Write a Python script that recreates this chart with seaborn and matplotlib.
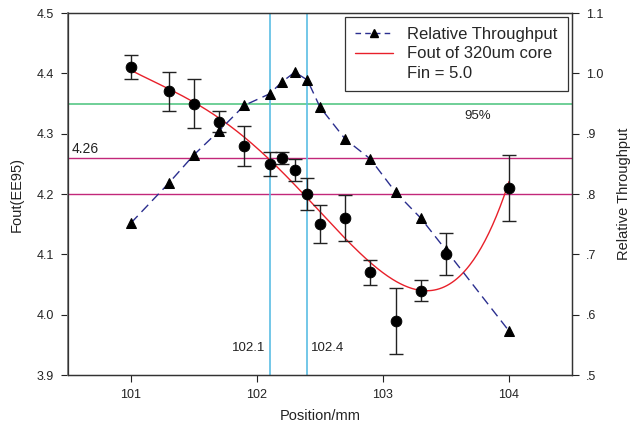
import numpy as np
import pandas as pd
import matplotlib
matplotlib.use("Agg")
import matplotlib.pyplot as plt
from matplotlib.lines import Line2D
from matplotlib.ticker import FuncFormatter
import seaborn as sns

# Fout(EE95) measurements with error bars
pos_fout = [101.0, 101.3, 101.5, 101.7, 101.9, 102.1, 102.2, 102.3, 102.4,
            102.5, 102.7, 102.9, 103.1, 103.3, 103.5, 104.0]
fout = [4.41, 4.37, 4.35, 4.32, 4.28, 4.25, 4.26, 4.24, 4.20,
        4.15, 4.16, 4.07, 3.99, 4.04, 4.10, 4.21]
fout_err = [0.02, 0.033, 0.04, 0.018, 0.033, 0.02, 0.01, 0.018, 0.027,
            0.032, 0.038, 0.02, 0.055, 0.017, 0.035, 0.055]

# Relative throughput
pos_tp = [101.0, 101.3, 101.5, 101.7, 101.9, 102.1, 102.2, 102.3, 102.4,
          102.5, 102.7, 102.9, 103.1, 103.3, 103.5, 104.0]
throughput = [0.752, 0.818, 0.865, 0.905, 0.947, 0.966, 0.986, 1.002, 0.989,
              0.944, 0.891, 0.858, 0.803, 0.760, 0.707, 0.573]

ref_fout = [4.35, 4.26, 4.20]
ref_pos = [102.1, 102.4]

sns.set_theme(style="ticks")
plt.rcParams["font.family"] = ["Liberation Sans", "DejaVu Sans"]

fout_df = pd.DataFrame({"pos": pos_fout, "fout": fout, "err": fout_err})
tp_df = pd.DataFrame({"pos": pos_tp, "tp": throughput})

fig = plt.figure(figsize=(6.33, 4.38), dpi=100)
ax = fig.add_axes([0.1074, 0.1438, 0.7962, 0.8265])
ax2 = ax.twinx()

# reference lines
ax.axhline(ref_fout[0], color="#6fcf97", lw=1.4, zorder=1)
ax.axhline(ref_fout[1], color="#c2287a", lw=1.0, zorder=1)
ax.axhline(ref_fout[2], color="#c2287a", lw=1.0, zorder=1)
for p in ref_pos:
    ax.axvline(p, color="#5bbde4", lw=1.2, zorder=1)

# polynomial fit of Fout
coef = np.polyfit(pos_fout, fout, 4)
xs = np.linspace(pos_fout[0], pos_fout[-1], 300)
sns.lineplot(x=xs, y=np.polyval(coef, xs), ax=ax, color="#e8202a", lw=1.0, zorder=3)

# measured Fout with error bars
ax.errorbar(fout_df["pos"], fout_df["fout"], yerr=fout_df["err"], fmt="none",
            ecolor="#222222", elinewidth=1.0, capsize=5, capthick=1.0, zorder=4)
sns.scatterplot(data=fout_df, x="pos", y="fout", ax=ax, color="black", s=60,
                edgecolor="black", zorder=5)

# throughput curve
sns.lineplot(data=tp_df, x="pos", y="tp", ax=ax2, color="#2b2f8f", lw=1.0,
             marker="^", markersize=7.5, markerfacecolor="black",
             markeredgecolor="black", zorder=4)
ax2.lines[-1].set_dashes([7, 4])

ax.set_xlim(100.5, 104.5)
ax.set_ylim(3.9, 4.5)
ax2.set_ylim(0.5, 1.1)
ax.set_xticks([101, 102, 103, 104])
ax.set_yticks(np.round(np.arange(3.9, 4.51, 0.1), 1))
ax.yaxis.set_major_formatter(FuncFormatter(lambda v, _: f"{v:.1f}"))
ax2.set_yticks(np.round(np.arange(0.5, 1.11, 0.1), 1))
ax2.yaxis.set_major_formatter(
    FuncFormatter(lambda v, _: f"{v:.1f}" if v >= 1 else f"{v:.1f}"[1:]))

ax.set_xlabel("Position/mm", fontsize=10.5, color="#222222", labelpad=6)
ax.set_ylabel("Fout(EE95)", fontsize=10.5, color="#222222", labelpad=9)
ax2.set_ylabel("Relative Throughput", fontsize=10.5, color="#222222", labelpad=10)

for a in (ax, ax2):
    a.tick_params(labelsize=9, colors="#222222", length=5, width=0.8,
                  direction="out", pad=5)
    for s in a.spines.values():
        s.set_visible(True)
        s.set_color("#333333")
        s.set_linewidth(0.9)
ax.spines["left"].set_color("#888888")
ax.spines["left"].set_linewidth(1.4)

# annotations
ax.text(100.53, 4.263, "4.26", fontsize=10, color="#222222", va="bottom", ha="left")
ax.text(103.75, 4.33, "95%", fontsize=9.5, color="#222222", va="center", ha="center")
ax.text(102.07, 3.945, "102.1", fontsize=9.5, color="#222222", va="center", ha="right")
ax.text(102.43, 3.945, "102.4", fontsize=9.5, color="#222222", va="center", ha="left")

handles = [
    Line2D([], [], color="#2b2f8f", lw=1.0, dashes=(4, 3), marker="^",
           markersize=6, markerfacecolor="black", markeredgecolor="black"),
    Line2D([], [], color="#e8202a", lw=1.0),
    Line2D([], [], color="none"),
]
labels = ["Relative Throughput", "Fout of 320um core", "Fin = 5.0"]
leg = ax2.legend(handles, labels, loc="upper right", fontsize=12,
                 frameon=True, fancybox=False, edgecolor="black",
                 borderaxespad=0.25, handlelength=2.3, labelspacing=0.25,
                 borderpad=0.6, handletextpad=0.85)
leg.get_frame().set_linewidth(0.9)

fig.savefig("out.png", dpi=100)
